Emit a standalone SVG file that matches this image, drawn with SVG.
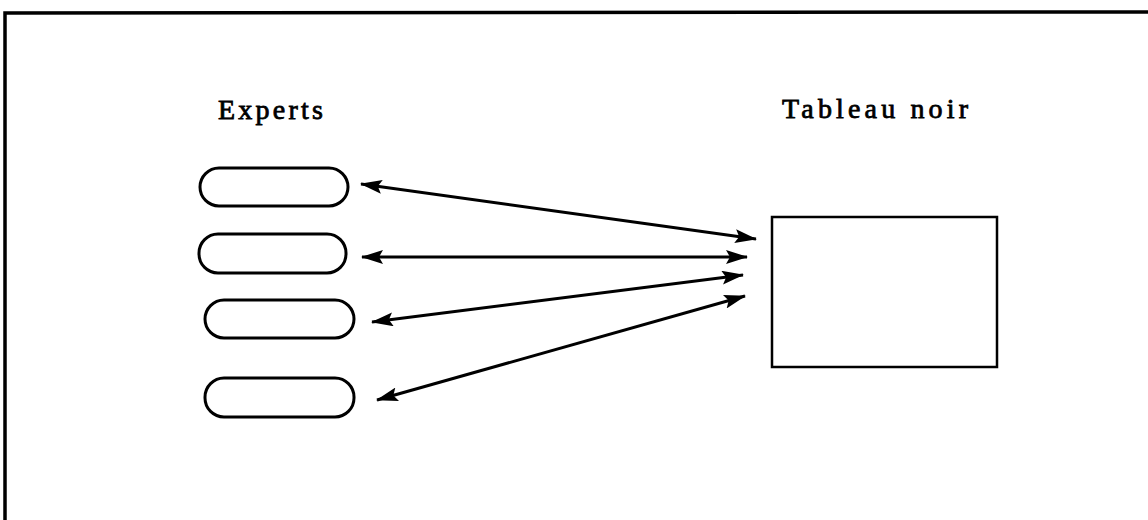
<svg xmlns="http://www.w3.org/2000/svg" width="1148" height="520" viewBox="0 0 1148 520">
  <defs>
    <style>
      .frame { fill: none; stroke: #000; stroke-width: 3.5; }
      .expert { fill: none; stroke: #000; stroke-width: 3; }
      .board { fill: none; stroke: #000; stroke-width: 2.5; }
      .link { fill: none; stroke: #000; stroke-width: 3; marker-start: url(#head); marker-end: url(#head); }
      .label { font-family: "Liberation Serif", "Times New Roman", serif; font-size: 28px; fill: #000; stroke: #000; stroke-width: 0.8; }
    </style>
    <marker id="head" viewBox="0 0 22 14" refX="21" refY="7" markerWidth="22" markerHeight="14" markerUnits="userSpaceOnUse" orient="auto-start-reverse">
      <path d="M0,0 L22,7 L0,14 L4,7 z" fill="#000"/>
    </marker>
  </defs>

  <!-- page frame, open at right and bottom -->
  <path class="frame" d="M5,520 L5,13 L1148,12"/>

  <!-- headings, spaced out like typewriter type -->
  <text class="label" x="218" y="119" textLength="105" lengthAdjust="spacing">Experts</text>
  <text class="label" x="782" y="118" textLength="186" lengthAdjust="spacing">Tableau noir</text>

  <!-- experts -->
  <g id="expert1"><rect class="expert" x="200" y="168" width="148" height="38" rx="19"/></g>
  <g id="expert2"><rect class="expert" x="199" y="234" width="147" height="39" rx="19"/></g>
  <g id="expert3"><rect class="expert" x="205" y="300" width="149" height="38" rx="19"/></g>
  <g id="expert4"><rect class="expert" x="205" y="378" width="149" height="39" rx="19"/></g>

  <!-- blackboard -->
  <g id="blackboard"><rect class="board" x="772" y="217" width="225" height="150"/></g>

  <!-- two-way links between experts and blackboard -->
  <g id="connectors">
    <line class="link" x1="361" y1="184" x2="756" y2="239"/>
    <line class="link" x1="362" y1="257" x2="747" y2="257"/>
    <line class="link" x1="372" y1="322" x2="743" y2="275"/>
    <line class="link" x1="377" y1="400" x2="745" y2="296"/>
  </g>
</svg>
